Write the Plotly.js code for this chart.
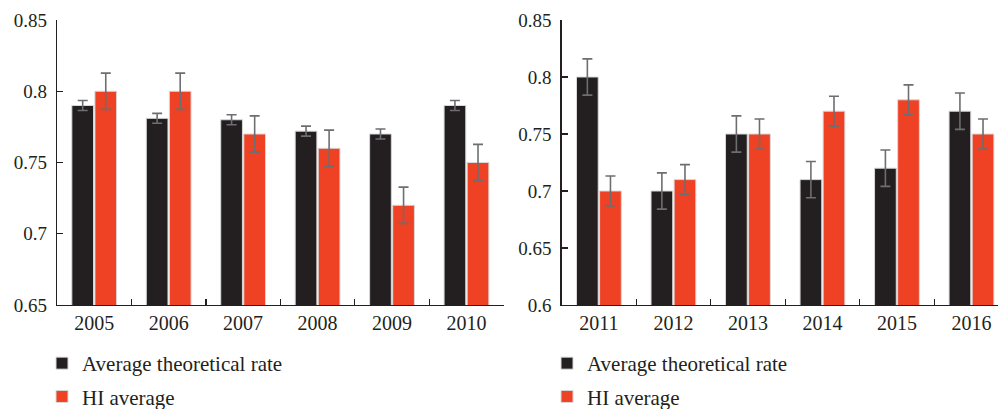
<!DOCTYPE html>
<html>
<head>
<meta charset="utf-8">
<script src="https://cdn.plot.ly/plotly-3.0.1.min.js"></script>
<style>html,body{margin:0;padding:0;background:#fff;}#chart{width:998px;height:409px;}</style>
</head>
<body>
<div id="chart"></div>
<script>
// Left panel (2005-2010)
const yearsLeft = ['2005', '2006', '2007', '2008', '2009', '2010'];
const theoreticalLeft = [0.790, 0.781, 0.780, 0.772, 0.770, 0.790];
const theoreticalErrLeft = [0.0035, 0.0035, 0.0035, 0.0035, 0.0035, 0.0035];
const hiLeft = [0.800, 0.800, 0.770, 0.760, 0.720, 0.750];
const hiErrLeft = [0.0127, 0.0127, 0.0127, 0.0127, 0.0127, 0.0127];

// Right panel (2011-2016)
const yearsRight = ['2011', '2012', '2013', '2014', '2015', '2016'];
const theoreticalRight = [0.800, 0.700, 0.750, 0.710, 0.720, 0.770];
const theoreticalErrRight = [0.0159, 0.0159, 0.0159, 0.0159, 0.0159, 0.0159];
const hiRight = [0.700, 0.710, 0.750, 0.770, 0.780, 0.750];
const hiErrRight = [0.0131, 0.0131, 0.0131, 0.0131, 0.0131, 0.0131];

const seriesNames = ['Average theoretical rate', 'HI average'];

const BLACK = '#231f20';
const RED = '#ef4123';
const ERR = '#6d6e71';
const FONT = 'Liberation Serif, Times New Roman, serif';

function barTrace(x, y, err, name, color, xa, ya, legend, group) {
  return {
    type: 'bar', x: x, y: y, name: name,
    xaxis: xa, yaxis: ya, legend: legend, legendgroup: group,
    marker: {color: color, line: {color: '#d8d8d8', width: 1}},
    error_y: {type: 'data', array: err, visible: true, color: ERR, thickness: 1.6, width: 5}
  };
}

// empty helper traces so that the boundary-tick axes get drawn
function tickHolder(xa, ya) {
  return {type: 'scatter', mode: 'markers', x: [], y: [], xaxis: xa, yaxis: ya, showlegend: false, hoverinfo: 'skip'};
}

const data = [
  barTrace(yearsLeft, theoreticalLeft, theoreticalErrLeft, seriesNames[0], BLACK, 'x', 'y', 'legend', 'a1'),
  barTrace(yearsLeft, hiLeft, hiErrLeft, seriesNames[1], RED, 'x', 'y', 'legend', 'b1'),
  barTrace(yearsRight, theoreticalRight, theoreticalErrRight, seriesNames[0], BLACK, 'x2', 'y2', 'legend2', 'a2'),
  barTrace(yearsRight, hiRight, hiErrRight, seriesNames[1], RED, 'x2', 'y2', 'legend2', 'b2'),
  tickHolder('x3', 'y'),
  tickHolder('x4', 'y2')
];

// boundary positions between categories (for tick marks)
function boundaries(n) { const b = []; for (let i = 0; i <= n; i++) b.push(i - 0.5); return b; }

const axisCommon = {
  showgrid: false, zeroline: false, showline: true,
  linecolor: BLACK, linewidth: 1.3,
  ticks: 'inside', ticklen: 6, tickwidth: 1.2, tickcolor: BLACK,
  tickfont: {family: FONT, size: 19, color: BLACK},
  automargin: false
};

const tickAxis = {
  showgrid: false, zeroline: false, showline: false, showticklabels: false,
  ticks: 'inside', ticklen: 6, tickwidth: 1.2, tickcolor: BLACK,
  type: 'linear', tickmode: 'array', automargin: false, fixedrange: true
};

const xFont = {family: FONT, size: 20, color: BLACK};

const legendCommon = {
  orientation: 'v', xref: 'container', yref: 'container',
  xanchor: 'left', yanchor: 'top',
  font: {family: FONT, size: 21, color: BLACK},
  tracegroupgap: 3, bgcolor: 'rgba(0,0,0,0)', traceorder: 'grouped'
};

const layout = {
  width: 998, height: 409,
  margin: {l: 57, r: 0, t: 20, b: 104, autoexpand: false},
  paper_bgcolor: '#fff', plot_bgcolor: '#fff',
  barmode: 'group', bargap: 0.38, bargroupgap: 0.06,
  showlegend: true,
  xaxis: Object.assign({}, axisCommon, {domain: [0, 0.4747], anchor: 'y', type: 'category', ticks: '', range: [-0.5, 5.5], tickangle: 0, tickfont: xFont}),
  yaxis: Object.assign({}, axisCommon, {anchor: 'x', range: [0.65, 0.85], dtick: 0.05, tick0: 0.65, ticklabelstandoff: 5}),
  xaxis2: Object.assign({}, axisCommon, {domain: [0.5363, 1], anchor: 'y2', type: 'category', ticks: '', range: [-0.5, 5.356], tickangle: 0, tickfont: xFont}),
  yaxis2: Object.assign({}, axisCommon, {anchor: 'x2', range: [0.6, 0.85], dtick: 0.05, tick0: 0.6, ticklabelstandoff: 5}),
  xaxis3: Object.assign({}, tickAxis, {overlaying: 'x', anchor: 'y', side: 'bottom', range: [-0.5, 5.5], tickvals: boundaries(yearsLeft.length)}),
  xaxis4: Object.assign({}, tickAxis, {overlaying: 'x2', anchor: 'y2', side: 'bottom', range: [-0.5, 5.356], tickvals: boundaries(yearsRight.length)}),
  legend: Object.assign({}, legendCommon, {x: 42 / 998, y: 1 - 343 / 409}),
  legend2: Object.assign({}, legendCommon, {x: 547 / 998, y: 1 - 343 / 409})
};

Plotly.newPlot('chart', data, layout, {displayModeBar: false, staticPlot: true});
</script>
</body>
</html>
